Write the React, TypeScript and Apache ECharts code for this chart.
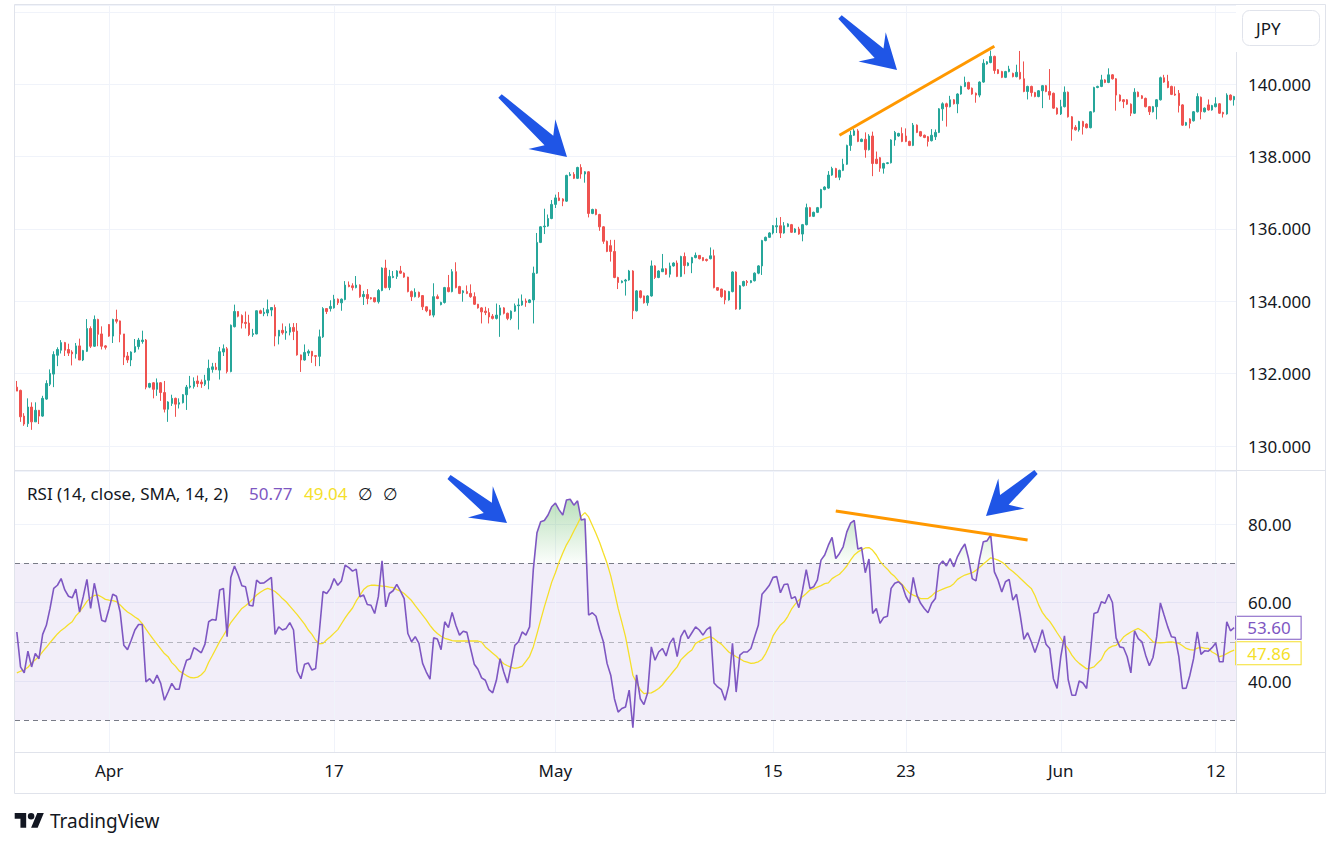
import React, { useEffect, useRef } from "react";
import * as echarts from "echarts";

// ---------- DATA (USDJPY, 4h candles) ----------
const opens = [
  131.63, 131.54, 130.83, 130.62, 131.08, 130.67, 130.99, 130.83, 131.30, 131.71,
  131.99, 132.51, 132.65, 132.86, 132.67, 132.60, 132.55, 132.77, 132.38, 132.62,
  133.25, 132.76, 133.50, 133.10, 132.77, 133.36, 133.04, 133.50, 133.46, 133.10,
  132.49, 132.38, 132.60, 132.75, 132.89, 132.93, 131.63, 131.75, 131.57, 131.75,
  131.48, 131.02, 131.18, 131.32, 131.16, 131.20, 131.42, 131.63, 131.65, 131.80,
  131.77, 131.71, 131.82, 132.12, 132.18, 132.10, 132.60, 132.69, 132.06, 133.30,
  133.72, 133.61, 133.42, 133.40, 133.08, 133.10, 133.74, 133.66, 133.68, 133.76,
  133.83, 133.04, 133.20, 133.13, 133.15, 133.28, 133.18, 132.52, 132.38, 132.57,
  132.62, 132.50, 132.48, 133.02, 133.80, 133.80, 133.82, 134.06, 133.96, 134.05,
  134.45, 134.43, 134.38, 134.45, 134.13, 134.19, 134.10, 134.10, 133.99, 134.30,
  134.92, 134.38, 134.66, 134.69, 134.84, 134.78, 134.67, 134.27, 134.13, 134.25,
  134.16, 133.85, 133.76, 133.62, 134.13, 133.91, 133.97, 134.38, 134.27, 134.82,
  134.41, 134.24, 134.27, 134.22, 134.13, 133.92, 133.82, 133.73, 133.69, 133.59,
  133.53, 133.62, 133.82, 133.67, 133.53, 133.73, 133.88, 133.90, 134.01, 133.97,
  134.04, 134.78, 135.63, 136.06, 136.08, 136.29, 136.68, 136.86, 136.83, 136.77,
  137.48, 137.51, 137.40, 137.70, 137.52, 137.58, 136.43, 136.54, 136.40, 136.06,
  135.66, 135.54, 135.38, 134.66, 134.52, 134.56, 134.59, 134.84, 133.74, 134.29,
  134.15, 133.96, 134.15, 134.98, 134.66, 134.82, 134.90, 134.75, 134.98, 135.06,
  134.69, 135.24, 134.99, 135.06, 135.21, 135.27, 135.21, 135.16, 135.18, 135.26,
  134.38, 134.34, 134.29, 134.04, 134.27, 134.81, 133.79, 134.43, 134.55, 134.52,
  134.57, 134.78, 134.98, 135.68, 135.77, 135.89, 136.06, 136.09, 135.89, 136.07,
  136.12, 135.91, 136.00, 135.86, 136.12, 136.59, 136.35, 136.46, 136.59, 137.09,
  137.13, 137.49, 137.67, 137.43, 137.62, 137.79, 138.31, 138.59, 138.71, 138.42,
  138.48, 138.19, 138.57, 137.93, 137.97, 137.68, 137.81, 137.83, 138.46, 138.57,
  138.64, 138.57, 138.42, 138.31, 138.87, 138.69, 138.59, 138.55, 138.44, 138.55,
  138.67, 139.32, 139.46, 139.38, 139.57, 139.46, 139.73, 139.94, 140.05, 139.89,
  139.75, 139.70, 140.06, 140.56, 140.60, 140.77, 140.40, 140.35, 140.19, 140.35,
  140.30, 140.21, 140.33, 140.15, 139.80, 139.94, 139.77, 139.66, 139.82, 139.96,
  139.80, 139.75, 139.34, 139.18, 139.38, 139.78, 139.10, 138.81, 138.74, 138.97,
  138.90, 138.80, 139.24, 139.91, 139.94, 140.12, 140.05, 140.26, 140.15, 139.70,
  139.57, 139.57, 139.45, 139.20, 139.78, 139.68, 139.61, 139.38, 139.24, 139.38,
  139.57, 140.18, 140.08, 139.94, 139.73, 139.75, 139.43, 138.87, 139.04, 138.99,
  139.24, 139.64, 139.24, 139.43, 139.29, 139.38, 139.46, 139.22, 139.18, 139.70,
  139.57,
];

const closes = [
  131.52, 130.81, 130.61, 131.08, 130.67, 130.99, 130.83, 131.32, 131.73, 132.01,
  132.53, 132.67, 132.86, 132.65, 132.57, 132.55, 132.77, 132.38, 132.64, 133.25,
  132.76, 133.50, 133.09, 132.76, 132.73, 133.04, 133.50, 133.45, 133.09, 132.46,
  132.38, 132.60, 132.75, 132.93, 132.93, 131.63, 131.73, 131.57, 131.75, 131.48,
  131.02, 131.22, 131.32, 131.16, 131.20, 131.42, 131.63, 131.66, 131.79, 131.73,
  131.72, 131.82, 132.15, 132.19, 132.12, 132.61, 132.69, 132.06, 133.34, 133.72,
  133.59, 133.40, 133.39, 133.08, 133.11, 133.74, 133.67, 133.70, 133.77, 133.83,
  133.04, 133.20, 133.13, 133.17, 133.28, 133.17, 132.52, 132.38, 132.59, 132.62,
  132.49, 132.48, 133.02, 133.80, 133.72, 133.86, 134.06, 133.96, 134.06, 134.45,
  134.41, 134.38, 134.45, 134.13, 134.19, 134.08, 134.07, 133.99, 134.30, 134.92,
  134.38, 134.69, 134.69, 134.84, 134.78, 134.67, 134.27, 134.13, 134.25, 134.13,
  133.85, 133.74, 133.62, 134.13, 134.08, 133.97, 134.38, 134.27, 134.82, 134.38,
  134.22, 134.29, 134.22, 134.13, 133.92, 133.82, 133.71, 133.69, 133.57, 133.53,
  133.62, 133.82, 133.67, 133.53, 133.73, 133.88, 133.90, 134.01, 133.97, 134.04,
  134.78, 135.63, 136.06, 136.08, 136.29, 136.68, 136.86, 136.79, 136.77, 137.48,
  137.51, 137.40, 137.70, 137.52, 137.58, 136.43, 136.54, 136.40, 136.06, 135.66,
  135.38, 135.38, 134.66, 134.52, 134.56, 134.59, 134.84, 133.74, 134.29, 134.11,
  133.96, 134.15, 134.98, 134.66, 134.84, 134.90, 134.75, 134.98, 135.06, 134.69,
  135.24, 134.99, 135.06, 135.21, 135.27, 135.18, 135.13, 135.13, 135.26, 134.38,
  134.31, 134.13, 134.04, 134.27, 134.81, 133.79, 134.43, 134.55, 134.52, 134.57,
  134.78, 134.98, 135.68, 135.77, 135.89, 136.09, 136.09, 135.89, 136.09, 136.14,
  135.91, 136.00, 135.86, 136.12, 136.59, 136.35, 136.46, 136.59, 137.09, 137.16,
  137.49, 137.67, 137.43, 137.62, 137.79, 138.31, 138.59, 138.71, 138.42, 138.48,
  138.19, 138.57, 137.81, 137.81, 137.68, 137.81, 137.83, 138.46, 138.67, 138.64,
  138.42, 138.42, 138.31, 138.87, 138.67, 138.57, 138.53, 138.42, 138.59, 138.67,
  139.32, 139.46, 139.38, 139.57, 139.46, 139.73, 139.94, 140.05, 139.87, 139.73,
  139.70, 140.06, 140.58, 140.62, 140.77, 140.38, 140.30, 140.19, 140.35, 140.42,
  140.21, 140.33, 140.15, 139.80, 139.94, 139.77, 139.66, 139.82, 139.96, 139.80,
  139.70, 139.34, 139.18, 139.38, 139.78, 139.10, 138.76, 138.74, 138.97, 138.83,
  138.80, 139.24, 139.91, 139.94, 140.12, 140.05, 140.26, 140.15, 139.70, 139.54,
  139.52, 139.45, 139.20, 139.78, 139.66, 139.61, 139.38, 139.24, 139.38, 139.57,
  140.18, 140.06, 139.91, 139.72, 139.70, 139.41, 138.87, 138.94, 138.92, 139.24,
  139.66, 139.24, 139.34, 139.29, 139.41, 139.46, 139.20, 139.18, 139.70, 139.57,
  139.66,
];

const lows = [
  131.52, 130.67, 130.56, 130.53, 130.45, 130.67, 130.61, 130.81, 131.28, 131.66,
  131.63, 132.21, 132.56, 132.49, 132.49, 132.23, 132.42, 132.38, 132.35, 132.60,
  132.71, 132.74, 132.76, 132.67, 132.67, 133.02, 132.85, 133.39, 132.87, 132.24,
  132.30, 132.21, 132.58, 132.67, 132.83, 131.57, 131.60, 131.32, 131.39, 131.25,
  130.93, 130.67, 131.11, 130.81, 131.04, 131.18, 131.00, 131.59, 131.59, 131.63,
  131.61, 131.66, 131.57, 132.03, 132.10, 131.84, 132.49, 132.01, 132.04, 133.28,
  133.56, 133.25, 133.25, 133.04, 133.02, 133.09, 133.65, 133.59, 133.59, 133.59,
  132.76, 132.81, 133.08, 132.94, 133.06, 132.93, 132.50, 132.05, 132.36, 132.49,
  132.30, 132.21, 132.21, 132.99, 133.65, 133.72, 133.80, 133.90, 133.74, 134.03,
  134.39, 134.30, 134.36, 134.10, 133.90, 133.92, 134.05, 133.97, 133.94, 134.28,
  134.36, 134.31, 134.64, 134.62, 134.76, 134.65, 134.25, 134.01, 134.11, 134.10,
  133.76, 133.70, 133.60, 133.56, 134.06, 133.89, 133.94, 134.25, 134.25, 134.36,
  134.20, 133.99, 134.20, 134.10, 133.90, 133.80, 133.39, 133.62, 133.39, 133.50,
  133.50, 133.02, 133.64, 133.48, 133.48, 133.71, 133.22, 133.88, 133.85, 133.95,
  133.39, 134.76, 135.61, 135.86, 136.06, 136.27, 136.58, 136.77, 136.63, 136.75,
  137.46, 137.38, 137.38, 137.39, 137.28, 136.32, 136.41, 136.38, 135.95, 135.59,
  135.36, 135.10, 134.64, 134.34, 134.50, 134.16, 134.57, 133.51, 133.72, 134.08,
  133.94, 133.88, 134.13, 134.62, 134.64, 134.81, 134.73, 134.66, 134.96, 134.67,
  134.67, 134.75, 134.97, 134.78, 135.19, 135.16, 135.11, 135.10, 135.16, 134.36,
  134.29, 134.10, 133.92, 134.02, 134.25, 133.77, 133.77, 134.41, 134.43, 134.50,
  134.55, 134.75, 134.73, 135.66, 135.75, 135.85, 135.89, 135.75, 135.87, 136.05,
  135.89, 135.89, 135.84, 135.66, 136.10, 136.33, 136.33, 136.44, 136.57, 137.07,
  137.11, 137.47, 137.41, 137.35, 137.60, 137.77, 138.16, 138.57, 138.40, 138.40,
  137.97, 138.17, 137.46, 137.79, 137.58, 137.53, 137.79, 137.81, 138.30, 138.55,
  138.40, 138.40, 138.29, 138.29, 138.65, 138.55, 138.51, 138.28, 138.42, 138.46,
  138.65, 138.99, 138.83, 139.36, 139.44, 139.20, 139.71, 139.92, 139.85, 139.71,
  139.49, 139.64, 140.04, 140.54, 140.58, 140.29, 140.28, 140.17, 140.17, 140.33,
  140.19, 140.19, 140.13, 139.78, 139.58, 139.66, 139.64, 139.64, 139.34, 139.78,
  139.57, 139.32, 139.16, 139.15, 139.36, 139.08, 138.44, 138.72, 138.69, 138.61,
  138.78, 138.78, 139.22, 139.89, 139.92, 140.03, 140.03, 140.13, 139.27, 139.52,
  139.34, 139.43, 139.12, 139.18, 139.64, 139.59, 139.36, 139.15, 139.22, 139.03,
  139.55, 140.04, 139.89, 139.70, 139.68, 139.22, 138.85, 138.85, 138.78, 138.97,
  139.22, 139.03, 139.22, 139.27, 139.27, 139.36, 139.18, 139.08, 139.16, 139.55,
  139.41,
];

const highs = [
  131.80, 131.56, 130.91, 131.32, 131.21, 131.21, 131.00, 131.39, 131.82, 132.12,
  132.62, 132.73, 132.93, 132.88, 132.83, 132.65, 132.85, 132.97, 132.66, 133.51,
  133.31, 133.61, 133.52, 133.31, 132.79, 133.37, 133.52, 133.77, 133.47, 133.10,
  132.60, 132.62, 132.96, 132.99, 133.19, 132.96, 131.75, 131.77, 131.87, 131.77,
  131.80, 131.24, 131.42, 131.34, 131.32, 131.44, 131.69, 131.94, 131.90, 131.95,
  131.84, 131.97, 132.39, 132.30, 132.30, 132.74, 132.81, 132.74, 133.36, 133.91,
  133.73, 133.64, 133.72, 133.63, 133.24, 133.75, 133.77, 133.82, 134.05, 133.84,
  133.91, 133.21, 133.39, 133.31, 133.39, 133.40, 133.40, 132.53, 132.81, 132.67,
  132.63, 132.51, 133.22, 133.84, 133.81, 134.03, 134.18, 134.08, 134.08, 134.56,
  134.55, 134.50, 134.70, 134.47, 134.29, 134.34, 134.12, 134.11, 134.34, 134.94,
  135.15, 134.87, 134.84, 134.86, 134.98, 134.80, 134.68, 134.30, 134.36, 134.27,
  134.17, 133.86, 133.77, 134.50, 134.19, 133.99, 134.40, 134.73, 134.89, 135.08,
  134.43, 134.31, 134.44, 134.47, 134.25, 133.93, 133.84, 133.85, 133.81, 133.65,
  133.94, 133.90, 133.84, 133.69, 133.75, 133.94, 134.08, 134.19, 134.08, 134.06,
  134.96, 135.89, 136.08, 136.56, 136.40, 136.80, 136.95, 137.02, 136.85, 137.50,
  137.57, 137.57, 137.72, 137.79, 137.60, 137.60, 136.56, 136.56, 136.42, 136.08,
  135.68, 135.70, 135.70, 134.68, 134.58, 134.62, 134.87, 134.86, 134.31, 134.31,
  134.16, 134.17, 135.13, 135.00, 134.86, 135.31, 134.92, 135.07, 135.08, 135.13,
  135.26, 135.35, 135.08, 135.23, 135.35, 135.28, 135.22, 135.18, 135.49, 135.43,
  134.39, 134.35, 134.31, 134.29, 134.83, 134.83, 134.45, 134.57, 134.59, 134.59,
  134.80, 135.00, 135.70, 135.79, 135.91, 136.11, 136.31, 136.33, 136.19, 136.16,
  136.14, 136.02, 136.06, 136.14, 136.70, 136.61, 136.48, 136.61, 137.11, 137.18,
  137.60, 137.72, 137.69, 137.64, 137.94, 138.33, 138.71, 138.76, 138.76, 138.50,
  138.67, 138.62, 138.69, 138.14, 137.99, 137.83, 137.85, 138.48, 138.71, 138.66,
  138.81, 138.78, 138.44, 138.93, 138.89, 138.71, 138.61, 138.57, 138.76, 138.75,
  139.34, 139.50, 139.49, 139.68, 139.59, 139.75, 139.96, 140.21, 140.07, 139.91,
  139.77, 140.08, 140.69, 140.64, 140.93, 140.79, 140.42, 140.37, 140.37, 140.51,
  140.32, 140.54, 140.92, 140.63, 139.96, 139.96, 139.79, 139.84, 139.98, 139.98,
  140.42, 139.77, 139.36, 139.57, 139.94, 139.80, 139.12, 138.87, 138.99, 138.99,
  138.92, 139.26, 139.93, 139.96, 140.26, 140.14, 140.44, 140.28, 140.17, 139.72,
  139.59, 139.59, 139.47, 139.89, 139.80, 139.70, 139.63, 139.40, 139.40, 139.59,
  140.21, 140.26, 140.26, 139.96, 139.94, 139.84, 139.45, 138.96, 139.06, 139.26,
  139.75, 139.66, 139.36, 139.58, 139.43, 139.64, 139.48, 139.24, 139.75, 139.72,
  139.68,
];

const rsi = [
  52.5, 43.6, 42.1, 47.6, 43.6, 47.0, 45.7, 51.9, 54.2, 58.5,
  63.6, 64.4, 66.1, 63.2, 61.6, 61.2, 63.4, 57.6, 61.5, 65.9,
  58.5, 64.9, 60.6, 55.5, 55.1, 58.5, 62.1, 61.6, 57.6, 49.1,
  48.0, 50.4, 53.0, 54.4, 54.4, 39.8, 40.6, 39.4, 41.5, 39.4,
  35.1, 37.2, 39.4, 37.9, 37.9, 42.3, 45.3, 45.7, 48.5, 47.9,
  47.2, 49.4, 55.1, 55.7, 55.5, 63.2, 63.6, 51.3, 66.4, 69.3,
  67.0, 64.3, 64.0, 59.3, 59.1, 65.7, 64.9, 65.0, 65.7, 66.4,
  51.9, 53.8, 53.0, 53.4, 54.9, 53.0, 42.5, 40.6, 44.3, 44.6,
  42.8, 43.2, 52.5, 62.8, 62.3, 63.6, 66.1, 64.4, 65.5, 69.5,
  68.9, 68.0, 68.5, 61.5, 61.9, 59.5, 59.3, 57.2, 61.5, 70.6,
  58.9, 62.3, 63.0, 64.6, 62.9, 61.0, 52.1, 50.0, 51.3, 49.6,
  44.5, 42.3, 40.5, 51.0, 50.7, 48.0, 55.1, 53.6, 57.5, 54.2,
  51.7, 52.7, 52.4, 48.3, 44.3, 43.0, 40.8, 40.2, 37.8, 37.0,
  40.2, 45.7, 42.3, 39.5, 44.0, 49.1, 50.0, 52.5, 51.7, 53.8,
  68.3, 77.8, 80.6, 80.9, 82.3, 84.4, 85.3, 83.6, 82.3, 86.1,
  86.3, 84.8, 85.9, 81.0, 81.3, 56.8, 57.4, 56.5, 53.0, 50.0,
  44.5, 41.5, 35.5, 32.1, 33.0, 33.4, 37.7, 28.1, 41.6, 35.5,
  34.0, 37.0, 48.7, 45.3, 47.4, 48.3, 46.4, 49.6, 51.0, 46.2,
  51.3, 53.0, 50.8, 52.3, 53.8, 53.0, 51.7, 53.1, 53.8, 39.5,
  38.5, 37.8, 35.1, 38.9, 49.6, 37.2, 46.6, 47.4, 47.4, 48.3,
  51.3, 54.2, 62.1, 63.2, 64.4, 66.4, 66.6, 62.5, 64.6, 64.7,
  61.0, 61.5, 58.7, 63.2, 68.4, 63.6, 64.0, 65.7, 70.8, 72.1,
  74.6, 76.6, 71.2, 72.5, 74.2, 78.0, 80.2, 80.9, 73.6, 74.0,
  67.6, 71.1, 57.2, 58.5, 54.7, 56.2, 56.5, 63.6, 64.9, 65.3,
  64.4, 61.6, 59.9, 66.4, 61.9, 59.8, 58.5, 57.4, 59.8, 61.0,
  69.5, 70.6, 69.3, 71.2, 69.1, 71.7, 73.5, 74.9, 71.2, 66.1,
  65.5, 71.2, 75.5, 75.7, 77.2, 67.8, 65.7, 62.7, 65.3, 65.9,
  60.6, 62.1, 56.8, 50.6, 52.3, 50.0, 47.3, 50.0, 53.1, 49.4,
  48.3, 40.6, 38.1, 46.2, 51.5, 40.4, 36.4, 36.4, 40.0, 39.5,
  38.1, 47.0, 57.2, 57.5, 60.2, 59.8, 62.1, 60.0, 51.0, 48.7,
  48.5, 46.2, 42.1, 52.8, 50.8, 50.0, 46.6, 43.9, 46.0, 51.3,
  59.9, 56.8, 53.8, 51.3, 51.1, 46.2, 38.1, 38.2, 41.5, 45.7,
  52.5, 46.8, 47.7, 47.6, 48.5, 49.7, 44.9, 44.9, 55.1, 52.8,
  53.6,
];

const rsiMa = [
  42.1, 42.5, 42.8, 43.5, 44.6, 45.4, 46.3, 47.5, 48.6, 49.8,
  50.9, 52.0, 52.9, 53.6, 54.4, 55.1, 56.6, 57.6, 58.9, 60.3,
  61.2, 61.8, 61.9, 61.4, 60.8, 60.6, 60.5, 60.2, 59.4, 58.4,
  57.6, 57.0, 56.3, 55.7, 54.6, 53.2, 51.9, 50.6, 49.4, 48.2,
  47.0, 46.2, 44.7, 43.8, 42.6, 42.0, 41.4, 40.9, 40.8, 41.0,
  41.6, 42.6, 44.8, 46.5, 48.3, 50.1, 51.6, 53.2, 54.9, 56.1,
  57.3, 58.5, 59.2, 60.0, 60.9, 61.9, 62.6, 63.2, 63.6, 63.3,
  62.8, 62.0, 61.0, 60.2, 59.1, 58.0, 56.9, 55.7, 54.5, 53.0,
  51.9, 50.4, 49.5, 49.6, 50.5, 51.3, 52.2, 53.1, 54.6, 56.1,
  57.4, 58.6, 60.4, 61.8, 63.3, 64.1, 64.4, 64.4, 64.3, 64.2,
  64.1, 63.9, 63.8, 63.3, 62.9, 62.3, 61.4, 60.5, 59.2, 58.0,
  56.8, 55.6, 54.2, 53.0, 52.1, 51.4, 50.9, 50.6, 50.3, 50.2,
  50.2, 50.2, 50.2, 50.2, 50.2, 50.2, 49.9, 48.7, 47.9, 47.1,
  46.3, 45.3, 44.4, 43.9, 43.5, 43.2, 43.4, 43.8, 45.0, 46.3,
  48.7, 52.0, 55.5, 58.9, 62.0, 65.2, 67.6, 70.3, 72.6, 74.7,
  76.3, 78.2, 80.0, 82.0, 82.9, 81.8, 79.7, 77.6, 75.3, 72.6,
  70.0, 66.8, 62.8, 58.5, 55.0, 51.3, 46.5, 41.5, 39.6, 37.8,
  36.8, 36.9, 37.0, 37.5, 38.1, 39.0, 40.2, 41.3, 42.5, 43.6,
  45.4, 46.3, 47.2, 47.9, 49.6, 50.1, 50.6, 51.0, 51.3, 50.8,
  50.0, 49.4, 48.4, 47.4, 46.8, 46.2, 45.7, 45.1, 44.8, 44.5,
  44.6, 44.9, 45.5, 47.0, 49.0, 51.5, 53.0, 54.3, 55.1, 56.5,
  58.3, 59.6, 60.6, 61.5, 62.3, 63.2, 63.5, 63.9, 64.3, 64.8,
  65.0, 66.1, 66.7, 67.2, 68.2, 69.3, 70.8, 72.1, 72.9, 73.4,
  73.9, 74.0, 73.3, 72.1, 70.5, 69.4, 68.5, 67.4, 66.6, 65.5,
  64.6, 63.4, 62.4, 61.9, 61.5, 61.0, 61.0, 61.0, 61.7, 62.6,
  63.0, 63.4, 63.8, 64.1, 64.8, 65.9, 66.5, 67.0, 67.3, 67.6,
  68.2, 69.0, 69.8, 70.6, 71.4, 71.1, 70.8, 70.3, 69.6, 68.6,
  67.9, 67.1, 66.2, 65.3, 64.4, 63.6, 61.8, 59.4, 57.5, 56.2,
  55.2, 53.8, 52.3, 50.9, 49.4, 48.2, 46.6, 45.4, 44.5, 43.8,
  43.1, 43.3, 43.6, 44.6, 45.5, 47.4, 48.4, 48.9, 49.1, 50.0,
  51.2, 51.9, 52.5, 53.0, 53.4, 52.8, 52.1, 51.0, 50.0, 49.8,
  49.7, 49.8, 49.9, 50.0, 49.8, 49.6, 49.0, 48.3, 48.0, 47.9,
  48.4, 48.6, 48.4, 48.3, 47.4, 46.9, 46.2, 46.5, 47.0, 47.5,
  47.86,
];

// time-axis ticks (candle index -> label)
const tickIdx = [25, 86, 146, 205, 241, 283, 325];
const tickText = ["Apr", "17", "May", "15", "23", "Jun", "12"];

// drawn trend lines: [index, value] pairs
const priceTrend = [[223, 138.59], [265, 141.05]];
const rsiTrend = [[222, 83.3], [274, 75.95]];

// legend values
const legendRsi = "50.77";
const legendMa = "49.04";

// ---------- STYLE ----------
const FONT = '"Noto Sans", "DejaVu Sans", sans-serif';
const TXT = "#131722";
const UP = "#26a69a";
const DOWN = "#ef5350";
const PURPLE = "#7e57c2";
const YELLOW = "#f5df2a";
const ORANGE = "#ff9800";
const BLUE = "#1f55e6";
const BORDER = "#e0e3eb";
const GRIDC = "#f0f3fa";

// annotation arrows (tail x, tail y, tip x, tip y) in pixels
const arrows = [
  [500, 96, 567, 157],
  [840, 17, 897, 70],
  [449, 477, 507, 523],
  [1036, 472, 986, 516],
];

function arrowPoints(a: number[]) {
  const [tx, ty, px, py] = a;
  const L = Math.hypot(px - tx, py - ty);
  const dx = (px - tx) / L;
  const dy = (py - ty) / L;
  const nx = -dy;
  const ny = dx;
  const hl = 34, hw = 20, nw = 6.5, tw = 2.5;
  const bx = px - dx * hl, by = py - dy * hl;
  const kx = px - dx * hl * 0.72, ky = py - dy * hl * 0.72;
  return [
    [tx + nx * tw, ty + ny * tw],
    [kx + nx * nw, ky + ny * nw],
    [bx + nx * hw, by + ny * hw],
    [px, py],
    [bx - nx * hw, by - ny * hw],
    [kx - nx * nw, ky - ny * nw],
    [tx - nx * tw, ty - ny * tw],
  ];
}

const LOGO_D =
  "M14 22H7V11H0V4h14v18zM28 22h-8l7.5-18h8L28 22zM24 8a4 4 0 1 1-8 0 4 4 0 0 1 8 0z";

export default function App() {
  const ref = useRef<HTMLDivElement>(null);

  useEffect(() => {
    if (!ref.current) return;
    echarts.graphic.registerShape("tvlogo", echarts.graphic.extendPath(LOGO_D, {}));
    const chart = echarts.init(ref.current, null, { renderer: "svg" });

    const cats = closes.map((_, i) => String(i));
    const candles = opens.map((o, i) => [o, closes[i], lows[i], highs[i]]);
    const over70 = rsi.map((v) => Math.max(v, 70));

    const vLines = tickIdx.map((i) => ({ xAxis: i }));

    const txt = (text: string, x: number, y: number, fill: string, size = 17, extra: any = {}) => ({
      type: "text",
      x,
      y,
      z: 110,
      silent: true,
      style: {
        text,
        fill,
        fontSize: size,
        fontFamily: FONT,
        verticalAlign: "middle",
        align: "left",
        ...extra,
      },
    });

    const option: any = {
      animation: false,
      backgroundColor: "#ffffff",
      textStyle: { fontFamily: FONT },
      grid: [
        { left: 15, width: 1221, top: 5, height: 465 },
        { left: 15, width: 1221, top: 471, height: 281 },
      ],
      xAxis: [
        {
          type: "category",
          gridIndex: 0,
          data: cats,
          boundaryGap: true,
          axisLine: { show: false },
          axisTick: { show: false },
          axisLabel: { show: false },
          splitLine: { show: false },
        },
        {
          type: "category",
          gridIndex: 1,
          data: cats,
          boundaryGap: true,
          axisLine: { show: false },
          axisTick: { show: false },
          axisLabel: {
            interval: (i: number) => tickIdx.indexOf(i) >= 0,
            formatter: (_v: string, i: number) => {
              const k = tickIdx.indexOf(i);
              return k >= 0 ? tickText[k] : "";
            },
            color: TXT,
            fontSize: 17,
            margin: 10,
            fontFamily: FONT,
          },
          splitLine: { show: false },
        },
      ],
      yAxis: [
        {
          type: "value",
          gridIndex: 0,
          position: "right",
          min: 129.34,
          max: 142.19,
          splitNumber: 6,
          axisLine: { show: false },
          axisTick: { show: false },
          axisLabel: {
            formatter: (v: number) => (v > 141 ? "" : v.toFixed(3)),
            color: TXT,
            fontSize: 17,
            margin: 12,
            showMinLabel: false,
            showMaxLabel: false,
            fontFamily: FONT,
          },
          splitLine: { lineStyle: { color: GRIDC, width: 1 } },
        },
        {
          type: "value",
          gridIndex: 1,
          position: "right",
          min: 21.93,
          max: 93.5,
          splitNumber: 4,
          axisLine: { show: false },
          axisTick: { show: false },
          axisLabel: {
            formatter: (v: number) => v.toFixed(2),
            color: TXT,
            fontSize: 17,
            margin: 12,
            showMinLabel: false,
            showMaxLabel: false,
            fontFamily: FONT,
          },
          splitLine: { lineStyle: { color: GRIDC, width: 1 } },
        },
      ],
      series: [
        {
          name: "priceGrid",
          type: "line",
          xAxisIndex: 0,
          yAxisIndex: 0,
          data: closes,
          symbol: "none",
          lineStyle: { opacity: 0 },
          silent: true,
          z: 1,
          markLine: {
            silent: true,
            z: 1,
            symbol: ["none", "none"],
            label: { show: false },
            emphasis: { disabled: true },
            lineStyle: { color: GRIDC, width: 1, type: "solid" },
            data: vLines,
          },
        },
        {
          name: "USDJPY",
          type: "candlestick",
          xAxisIndex: 0,
          yAxisIndex: 0,
          data: candles,
          barWidth: 2,
          z: 3,
          itemStyle: {
            color: UP,
            color0: DOWN,
            borderColor: UP,
            borderColor0: DOWN,
            borderWidth: 1,
          },
          markLine: {
            silent: true,
            symbol: ["none", "none"],
            label: { show: false },
            emphasis: { disabled: true },
            lineStyle: { color: ORANGE, width: 3, type: "solid" },
            data: [[{ coord: priceTrend[0] }, { coord: priceTrend[1] }]],
          },
        },
        {
          name: "rsiBand",
          type: "line",
          xAxisIndex: 1,
          yAxisIndex: 1,
          data: rsi,
          symbol: "none",
          lineStyle: { opacity: 0 },
          silent: true,
          z: 1,
          markArea: {
            silent: true,
            itemStyle: { color: "rgba(126,87,194,0.1)" },
            data: [[{ yAxis: 30 }, { yAxis: 70 }]],
          },
          markLine: {
            silent: true,
            z: 1,
            symbol: ["none", "none"],
            label: { show: false },
            emphasis: { disabled: true },
            data: [
              ...tickIdx.map((i) => ({ xAxis: i, lineStyle: { color: GRIDC, width: 1, type: "solid" } })),
              { yAxis: 70, lineStyle: { color: "#787b86", width: 1, type: [5, 4] } },
              { yAxis: 50, lineStyle: { color: "rgba(120,123,134,0.5)", width: 1, type: [5, 4] } },
              { yAxis: 30, lineStyle: { color: "#787b86", width: 1, type: [5, 4] } },
            ],
          },
        },
        {
          name: "overbought",
          type: "line",
          xAxisIndex: 1,
          yAxisIndex: 1,
          data: over70,
          symbol: "none",
          silent: true,
          z: 2,
          lineStyle: { width: 0, opacity: 0 },
          areaStyle: {
            origin: 70,
            color: new echarts.graphic.LinearGradient(0, 0, 0, 1, [
              { offset: 0, color: "rgba(76,175,80,0.55)" },
              { offset: 1, color: "rgba(76,175,80,0.03)" },
            ]),
          },
        },
        {
          name: "RSI MA",
          type: "line",
          xAxisIndex: 1,
          yAxisIndex: 1,
          data: rsiMa,
          symbol: "none",
          z: 3,
          lineStyle: { color: YELLOW, width: 1.3 },
          endLabel: {
            show: true,
            formatter: (p: any) => Number(p.value).toFixed(2),
            color: YELLOW,
            backgroundColor: "#ffffff",
            borderColor: YELLOW,
            borderWidth: 1,
            padding: [3, 10, 2, 11],
            fontSize: 17,
            fontFamily: FONT,
            distance: 2,
            offset: [0, 3],
          },
        },
        {
          name: "RSI",
          type: "line",
          xAxisIndex: 1,
          yAxisIndex: 1,
          data: rsi,
          symbol: "none",
          z: 4,
          lineStyle: { color: PURPLE, width: 1.6 },
          endLabel: {
            show: true,
            formatter: (p: any) => Number(p.value).toFixed(2),
            color: PURPLE,
            backgroundColor: "#ffffff",
            borderColor: PURPLE,
            borderWidth: 1,
            padding: [3, 10, 2, 11],
            fontSize: 17,
            fontFamily: FONT,
            distance: 2,
          },
          markLine: {
            silent: true,
            symbol: ["none", "none"],
            label: { show: false },
            emphasis: { disabled: true },
            lineStyle: { color: ORANGE, width: 3, type: "solid" },
            data: [[{ coord: rsiTrend[0] }, { coord: rsiTrend[1] }]],
          },
        },
      ],
      graphic: [
        {
          type: "rect",
          z: 100,
          silent: true,
          shape: { x: 14.5, y: 4.5, width: 1311, height: 789 },
          style: { fill: "none", stroke: BORDER, lineWidth: 1 },
        },
        {
          type: "line",
          z: 100,
          silent: true,
          shape: { x1: 14.5, y1: 470.5, x2: 1325.5, y2: 470.5 },
          style: { stroke: BORDER, lineWidth: 1 },
        },
        {
          type: "line",
          z: 100,
          silent: true,
          shape: { x1: 14.5, y1: 752.5, x2: 1325.5, y2: 752.5 },
          style: { stroke: BORDER, lineWidth: 1 },
        },
        {
          type: "line",
          z: 100,
          silent: true,
          shape: { x1: 1236.5, y1: 52, x2: 1236.5, y2: 793 },
          style: { stroke: BORDER, lineWidth: 1 },
        },
        {
          type: "rect",
          z: 105,
          silent: true,
          shape: { x: 1242.5, y: 10.5, width: 77, height: 35, r: 7 },
          style: { fill: "#ffffff", stroke: BORDER, lineWidth: 1 },
        },
        txt("JPY", 1256, 28.5, TXT, 17),
        txt("RSI (14, close, SMA, 14, 2)", 27, 493, TXT, 17),
        txt(legendRsi, 249, 493, PURPLE, 17),
        txt(legendMa, 304, 493, YELLOW, 17),
        txt("\u2205", 358, 493, TXT, 17),
        txt("\u2205", 383, 493, TXT, 17),
        ...arrows.map((a) => ({
          type: "polygon",
          z: 108,
          silent: true,
          shape: { points: arrowPoints(a) },
          style: { fill: BLUE },
        })),
        {
          type: "tvlogo",
          z: 110,
          silent: true,
          x: 14.7,
          y: 809.7,
          scaleX: 0.82,
          scaleY: 0.82,
          style: { fill: TXT },
        },
        txt("TradingView", 50, 821, TXT, 19),
      ],
    };

    chart.setOption(option);
    return () => chart.dispose();
  }, []);

  return (
    <div
      ref={ref}
      style={{ position: "absolute", left: 0, top: 0, width: 1341, height: 847, background: "#ffffff" }}
    />
  );
}
